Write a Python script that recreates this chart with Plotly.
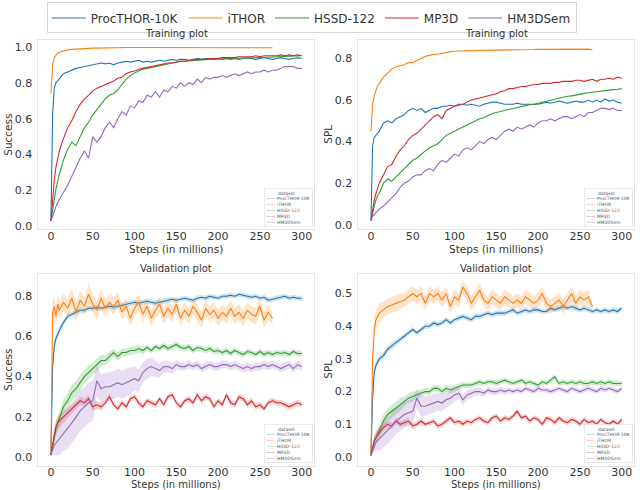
import plotly.graph_objects as go

# ---------------- data ----------------
names = ["ProcTHOR-10K", "iTHOR", "HSSD-122", "MP3D", "HM3DSem"]
colors = ["#1f77b4", "#ff7f0e", "#2ca02c", "#d62728", "#9467bd"]

steps = [0, 2, 4, 6, 8, 10,
         15, 20, 25, 30, 35, 40, 45, 50, 55, 60,
         65, 70, 75, 80, 85, 90, 95, 100, 105, 110,
         115, 120, 125, 130, 135, 140, 145, 150, 155, 160,
         165, 170, 175, 180, 185, 190, 195, 200, 205, 210,
         215, 220, 225, 230, 235, 240, 245, 250, 255, 260,
         265, 270, 275, 280, 285, 290, 295, 300]
steps_ithor = [0, 2, 4, 6, 8, 10,
               15, 20, 25, 30, 35, 40, 45, 50, 55, 60,
               65, 70, 75, 80, 85, 90, 95, 100, 105, 110,
               115, 120, 125, 130, 135, 140, 145, 150, 155, 160,
               165, 170, 175, 180, 185, 190, 195, 200, 205, 210,
               215, 220, 225, 230, 235, 240, 245, 250, 255, 260,
               265]

# Training - Success
tr_succ_procthor = [0.03, 0.62, 0.77, 0.80, 0.81, 0.82,
    0.85, 0.86, 0.87, 0.88, 0.885, 0.89, 0.895, 0.90, 0.905, 0.91,
    0.905, 0.91, 0.90, 0.91, 0.915, 0.92, 0.915, 0.92, 0.925, 0.915,
    0.92, 0.915, 0.92, 0.925, 0.92, 0.925, 0.93, 0.925, 0.93, 0.93,
    0.925, 0.93, 0.935, 0.93, 0.935, 0.93, 0.93, 0.935, 0.93, 0.935,
    0.93, 0.935, 0.93, 0.935, 0.94, 0.935, 0.93, 0.935, 0.94, 0.935,
    0.93, 0.935, 0.94, 0.935, 0.93, 0.935, 0.94, 0.935]
tr_succ_ithor = [0.74, 0.90, 0.94, 0.955, 0.965, 0.97,
    0.978, 0.983, 0.986, 0.988, 0.99, 0.991, 0.992, 0.993, 0.993, 0.994,
    0.994, 0.995, 0.995, 0.995, 0.995, 0.996, 0.996, 0.996, 0.996, 0.996,
    0.997, 0.997, 0.997, 0.997, 0.997, 0.997, 0.997, 0.997, 0.997, 0.997,
    0.997, 0.997, 0.997, 0.997, 0.997, 0.997, 0.997, 0.997, 0.997, 0.997,
    0.997, 0.997, 0.997, 0.997, 0.997, 0.997, 0.997, 0.997, 0.997, 0.997,
    0.995]
tr_succ_hssd = [0.03, 0.10, 0.16, 0.21, 0.25, 0.29,
    0.37, 0.43, 0.47, 0.45, 0.50, 0.55, 0.58, 0.62, 0.65, 0.68,
    0.71, 0.73, 0.74, 0.76, 0.79, 0.82, 0.84, 0.855, 0.865, 0.875,
    0.88, 0.885, 0.89, 0.895, 0.90, 0.905, 0.91, 0.915, 0.92, 0.92,
    0.922, 0.925, 0.925, 0.927, 0.928, 0.93, 0.93, 0.932, 0.933, 0.934,
    0.935, 0.936, 0.936, 0.937, 0.938, 0.939, 0.94, 0.941, 0.942, 0.943,
    0.943, 0.944, 0.945, 0.946, 0.947, 0.948, 0.949, 0.95]
tr_succ_mp3d = [0.03, 0.17, 0.26, 0.33, 0.38, 0.42,
    0.49, 0.55, 0.59, 0.64, 0.68, 0.71, 0.73, 0.755, 0.77, 0.78,
    0.79, 0.80, 0.81, 0.825, 0.83, 0.85, 0.86, 0.865, 0.875, 0.88,
    0.885, 0.89, 0.895, 0.90, 0.905, 0.91, 0.91, 0.915, 0.92, 0.92,
    0.925, 0.925, 0.93, 0.93, 0.93, 0.935, 0.935, 0.935, 0.94, 0.94,
    0.94, 0.94, 0.945, 0.945, 0.945, 0.945, 0.95, 0.945, 0.95, 0.95,
    0.95, 0.95, 0.955, 0.95, 0.955, 0.95, 0.955, 0.95]
tr_succ_hm3d = [0.03, 0.06, 0.09, 0.11, 0.13, 0.15,
    0.19, 0.23, 0.28, 0.33, 0.38, 0.42, 0.38, 0.50, 0.47, 0.50,
    0.55, 0.58, 0.55, 0.60, 0.64, 0.62, 0.67, 0.66, 0.70, 0.69,
    0.73, 0.72, 0.75, 0.72, 0.76, 0.75, 0.78, 0.77, 0.80, 0.78,
    0.80, 0.79, 0.82, 0.80, 0.83, 0.82, 0.83, 0.83, 0.84, 0.83,
    0.84, 0.85, 0.84, 0.85, 0.86, 0.85, 0.86, 0.86, 0.87, 0.86,
    0.87, 0.87, 0.88, 0.89, 0.89, 0.89, 0.88, 0.88]

# Training - SPL
tr_spl_procthor = [0.02, 0.38, 0.42, 0.43, 0.44, 0.45,
    0.49, 0.50, 0.49, 0.51, 0.52, 0.53, 0.55, 0.56, 0.55, 0.56,
    0.54, 0.55, 0.56, 0.56, 0.57, 0.57, 0.575, 0.57, 0.58, 0.58,
    0.575, 0.58, 0.575, 0.57, 0.58, 0.585, 0.59, 0.59, 0.585, 0.58,
    0.58, 0.58, 0.585, 0.58, 0.58, 0.58, 0.58, 0.58, 0.585, 0.59,
    0.585, 0.59, 0.595, 0.59, 0.585, 0.59, 0.595, 0.59, 0.59, 0.60,
    0.59, 0.60, 0.59, 0.605, 0.595, 0.60, 0.59, 0.585]
tr_spl_ithor = [0.45, 0.58, 0.62, 0.65, 0.67, 0.68,
    0.71, 0.73, 0.75, 0.76, 0.765, 0.77, 0.78, 0.78, 0.79, 0.80,
    0.81, 0.815, 0.82, 0.82, 0.825, 0.83, 0.833, 0.835, 0.836, 0.837,
    0.838, 0.838, 0.839, 0.839, 0.84, 0.84, 0.84, 0.84, 0.841, 0.841,
    0.842, 0.842, 0.842, 0.843, 0.843, 0.843, 0.843, 0.844, 0.844, 0.844,
    0.844, 0.845, 0.845, 0.845, 0.845, 0.846, 0.846, 0.846, 0.846, 0.845,
    0.84]
tr_spl_hssd = [0.02, 0.06, 0.09, 0.12, 0.14, 0.15,
    0.20, 0.22, 0.21, 0.23, 0.25, 0.27, 0.29, 0.31, 0.32, 0.34,
    0.355, 0.37, 0.38, 0.39, 0.41, 0.43, 0.44, 0.45, 0.46, 0.47,
    0.48, 0.49, 0.50, 0.51, 0.515, 0.525, 0.535, 0.54, 0.545, 0.55,
    0.555, 0.56, 0.565, 0.57, 0.575, 0.578, 0.58, 0.585, 0.59, 0.595,
    0.60, 0.605, 0.61, 0.615, 0.618, 0.62, 0.625, 0.63, 0.632, 0.635,
    0.638, 0.64, 0.642, 0.645, 0.647, 0.65, 0.652, 0.655]
tr_spl_mp3d = [0.02, 0.08, 0.12, 0.15, 0.18, 0.20,
    0.24, 0.28, 0.29, 0.33, 0.36, 0.38, 0.41, 0.43, 0.44, 0.46,
    0.48, 0.50, 0.52, 0.53, 0.51, 0.55, 0.56, 0.57, 0.575, 0.58,
    0.59, 0.60, 0.605, 0.61, 0.615, 0.62, 0.625, 0.63, 0.64, 0.645,
    0.655, 0.655, 0.66, 0.665, 0.665, 0.67, 0.675, 0.675, 0.68, 0.68,
    0.68, 0.685, 0.685, 0.69, 0.69, 0.69, 0.695, 0.695, 0.69, 0.695,
    0.70, 0.69, 0.70, 0.70, 0.705, 0.70, 0.71, 0.705]
tr_spl_hm3d = [0.02, 0.04, 0.05, 0.06, 0.07, 0.075,
    0.09, 0.11, 0.13, 0.15, 0.18, 0.20, 0.21, 0.23, 0.24, 0.24,
    0.26, 0.27, 0.26, 0.29, 0.31, 0.30, 0.32, 0.34, 0.33, 0.36,
    0.37, 0.36, 0.38, 0.40, 0.39, 0.41, 0.42, 0.41, 0.43, 0.45,
    0.46, 0.45, 0.47, 0.46, 0.47, 0.48, 0.47, 0.49, 0.50, 0.50,
    0.51, 0.50, 0.51, 0.52, 0.52, 0.51, 0.52, 0.53, 0.52, 0.54,
    0.54, 0.55, 0.56, 0.56, 0.555, 0.56, 0.55, 0.55]

# Validation - Success (mean)
va_succ_procthor = [0.01, 0.45, 0.55, 0.59, 0.61, 0.63,
    0.67, 0.70, 0.71, 0.72, 0.73, 0.73, 0.74, 0.74, 0.745, 0.74,
    0.745, 0.75, 0.745, 0.75, 0.755, 0.76, 0.765, 0.77, 0.765, 0.77,
    0.775, 0.77, 0.765, 0.77, 0.775, 0.78, 0.785, 0.78, 0.785, 0.79,
    0.785, 0.78, 0.79, 0.795, 0.79, 0.80, 0.795, 0.79, 0.80, 0.80,
    0.805, 0.80, 0.81, 0.805, 0.80, 0.795, 0.80, 0.79, 0.795, 0.78,
    0.785, 0.79, 0.795, 0.80, 0.79, 0.795, 0.79, 0.79]
va_succ_ithor = [0.02, 0.72, 0.75, 0.70, 0.76, 0.73,
    0.77, 0.74, 0.79, 0.72, 0.78, 0.75, 0.81, 0.76, 0.73, 0.79,
    0.74, 0.77, 0.75, 0.78, 0.72, 0.75, 0.69, 0.74, 0.77, 0.71,
    0.75, 0.69, 0.73, 0.76, 0.70, 0.74, 0.71, 0.76, 0.69, 0.73,
    0.70, 0.75, 0.72, 0.68, 0.74, 0.71, 0.73, 0.69, 0.72, 0.70,
    0.74, 0.70, 0.72, 0.69, 0.73, 0.71, 0.70, 0.75, 0.68, 0.72,
    0.69]
va_succ_hssd = [0.01, 0.06, 0.10, 0.14, 0.17, 0.19,
    0.25, 0.28, 0.32, 0.34, 0.37, 0.40, 0.42, 0.44, 0.46, 0.48,
    0.48, 0.50, 0.52, 0.50, 0.52, 0.52, 0.53, 0.53, 0.54, 0.53,
    0.545, 0.53, 0.55, 0.54, 0.555, 0.54, 0.55, 0.56, 0.545, 0.54,
    0.55, 0.53, 0.545, 0.54, 0.53, 0.54, 0.525, 0.53, 0.52, 0.53,
    0.515, 0.53, 0.52, 0.51, 0.525, 0.52, 0.51, 0.525, 0.51, 0.52,
    0.51, 0.52, 0.515, 0.52, 0.51, 0.525, 0.515, 0.515]
va_succ_mp3d = [0.01, 0.07, 0.11, 0.15, 0.17, 0.18,
    0.20, 0.22, 0.24, 0.26, 0.28, 0.27, 0.29, 0.25, 0.26, 0.25,
    0.27, 0.30, 0.26, 0.24, 0.27, 0.25, 0.29, 0.30, 0.27, 0.25,
    0.28, 0.27, 0.26, 0.29, 0.26, 0.30, 0.31, 0.27, 0.25, 0.28,
    0.29, 0.27, 0.31, 0.28, 0.30, 0.29, 0.25, 0.28, 0.26, 0.31,
    0.27, 0.26, 0.30, 0.29, 0.26, 0.28, 0.25, 0.26, 0.24, 0.27,
    0.28, 0.27, 0.27, 0.26, 0.25, 0.26, 0.27, 0.26]
va_succ_hm3d = [0.01, 0.04, 0.06, 0.07, 0.08, 0.09,
    0.12, 0.14, 0.17, 0.20, 0.23, 0.25, 0.27, 0.28, 0.38, 0.34,
    0.35, 0.35, 0.36, 0.37, 0.36, 0.37, 0.38, 0.39, 0.38, 0.42,
    0.44, 0.45, 0.44, 0.43, 0.45, 0.45, 0.44, 0.46, 0.45, 0.45,
    0.46, 0.45, 0.46, 0.44, 0.45, 0.46, 0.45, 0.45, 0.46, 0.46,
    0.45, 0.46, 0.45, 0.44, 0.45, 0.44, 0.45, 0.45, 0.46, 0.45,
    0.46, 0.45, 0.44, 0.45, 0.46, 0.44, 0.46, 0.45]

# Validation - Success (band half-widths)
va_succ_procthor_err = [0.0, 0.04, 0.03, 0.02, 0.02, 0.02,
    0.015, 0.015, 0.015, 0.012, 0.012, 0.012, 0.012, 0.012, 0.012, 0.012,
    0.012, 0.012, 0.012, 0.012, 0.012, 0.012, 0.012, 0.012, 0.012, 0.012,
    0.012, 0.012, 0.012, 0.012, 0.012, 0.012, 0.012, 0.012, 0.012, 0.012,
    0.012, 0.012, 0.012, 0.012, 0.012, 0.012, 0.012, 0.012, 0.012, 0.012,
    0.012, 0.012, 0.012, 0.012, 0.012, 0.012, 0.012, 0.012, 0.012, 0.012,
    0.012, 0.012, 0.012, 0.012, 0.012, 0.012, 0.012, 0.012]
va_succ_ithor_err = [0.0, 0.06, 0.05, 0.05, 0.045, 0.045,
    0.045, 0.045, 0.05, 0.045, 0.045, 0.045, 0.055, 0.045, 0.045, 0.045,
    0.045, 0.04, 0.04, 0.04, 0.04, 0.04, 0.04, 0.04, 0.04, 0.04,
    0.04, 0.04, 0.04, 0.04, 0.04, 0.04, 0.04, 0.04, 0.04, 0.04,
    0.04, 0.04, 0.04, 0.04, 0.04, 0.04, 0.04, 0.04, 0.04, 0.04,
    0.04, 0.04, 0.04, 0.04, 0.04, 0.04, 0.04, 0.04, 0.04, 0.04,
    0.03]
va_succ_hssd_err = [0.0, 0.02, 0.03, 0.04, 0.04, 0.04,
    0.04, 0.04, 0.04, 0.04, 0.04, 0.035, 0.035, 0.03, 0.03, 0.03,
    0.025, 0.025, 0.02, 0.02, 0.02, 0.02, 0.02, 0.02, 0.02, 0.02,
    0.015, 0.015, 0.015, 0.015, 0.015, 0.015, 0.015, 0.015, 0.015, 0.015,
    0.015, 0.015, 0.015, 0.015, 0.015, 0.015, 0.015, 0.015, 0.015, 0.015,
    0.015, 0.015, 0.015, 0.015, 0.015, 0.015, 0.015, 0.015, 0.015, 0.015,
    0.015, 0.015, 0.015, 0.015, 0.015, 0.015, 0.015, 0.015]
va_succ_mp3d_err = [0.0, 0.02, 0.03, 0.03, 0.03, 0.03,
    0.03, 0.025, 0.02, 0.02, 0.02, 0.02, 0.02, 0.02, 0.02, 0.02,
    0.015, 0.015, 0.015, 0.015, 0.015, 0.015, 0.015, 0.015, 0.015, 0.015,
    0.015, 0.015, 0.015, 0.015, 0.015, 0.015, 0.015, 0.015, 0.015, 0.015,
    0.015, 0.015, 0.015, 0.015, 0.015, 0.015, 0.015, 0.015, 0.015, 0.015,
    0.015, 0.015, 0.015, 0.015, 0.015, 0.015, 0.015, 0.015, 0.015, 0.015,
    0.015, 0.015, 0.015, 0.015, 0.015, 0.015, 0.015, 0.015]
va_succ_hm3d_err = [0.0, 0.03, 0.05, 0.06, 0.07, 0.08,
    0.09, 0.10, 0.10, 0.10, 0.10, 0.10, 0.10, 0.10, 0.08, 0.07,
    0.07, 0.07, 0.07, 0.07, 0.07, 0.07, 0.065, 0.06, 0.055, 0.05,
    0.05, 0.045, 0.04, 0.035, 0.03, 0.03, 0.025, 0.025, 0.02, 0.02,
    0.02, 0.02, 0.02, 0.02, 0.02, 0.02, 0.02, 0.02, 0.02, 0.02,
    0.02, 0.02, 0.02, 0.02, 0.02, 0.02, 0.02, 0.02, 0.02, 0.02,
    0.02, 0.02, 0.02, 0.02, 0.02, 0.02, 0.02, 0.02]

# Validation - SPL (mean)
va_spl_procthor = [0.005, 0.18, 0.26, 0.28, 0.29, 0.30,
    0.31, 0.33, 0.34, 0.35, 0.36, 0.37, 0.38, 0.39, 0.38, 0.39,
    0.40, 0.40, 0.41, 0.405, 0.41, 0.42, 0.41, 0.42, 0.425, 0.43,
    0.425, 0.42, 0.43, 0.43, 0.435, 0.44, 0.435, 0.44, 0.44, 0.44,
    0.445, 0.45, 0.44, 0.445, 0.45, 0.445, 0.45, 0.45, 0.445, 0.445,
    0.455, 0.45, 0.455, 0.46, 0.455, 0.46, 0.455, 0.45, 0.455, 0.45,
    0.445, 0.45, 0.445, 0.45, 0.445, 0.45, 0.445, 0.455]
va_spl_ithor = [0.005, 0.30, 0.39, 0.42, 0.43, 0.44,
    0.45, 0.46, 0.465, 0.47, 0.475, 0.48, 0.49, 0.50, 0.49, 0.50,
    0.47, 0.50, 0.49, 0.50, 0.48, 0.50, 0.46, 0.49, 0.48, 0.52,
    0.50, 0.47, 0.49, 0.51, 0.48, 0.47, 0.49, 0.48, 0.47, 0.49,
    0.48, 0.47, 0.48, 0.47, 0.49, 0.48, 0.47, 0.48, 0.50, 0.47,
    0.46, 0.47, 0.48, 0.46, 0.48, 0.50, 0.47, 0.49, 0.48, 0.49,
    0.46]
va_spl_hssd = [0.005, 0.03, 0.05, 0.06, 0.07, 0.08,
    0.11, 0.13, 0.14, 0.15, 0.16, 0.17, 0.18, 0.185, 0.19, 0.195,
    0.20, 0.20, 0.21, 0.21, 0.20, 0.21, 0.205, 0.21, 0.215, 0.22,
    0.22, 0.22, 0.225, 0.23, 0.225, 0.23, 0.23, 0.225, 0.23, 0.235,
    0.23, 0.225, 0.23, 0.235, 0.225, 0.23, 0.225, 0.22, 0.23, 0.225,
    0.235, 0.245, 0.225, 0.23, 0.225, 0.23, 0.225, 0.23, 0.225, 0.225,
    0.23, 0.225, 0.23, 0.225, 0.23, 0.225, 0.225, 0.225]
va_spl_mp3d = [0.005, 0.03, 0.05, 0.06, 0.07, 0.075,
    0.09, 0.10, 0.095, 0.11, 0.10, 0.105, 0.11, 0.095, 0.10, 0.11,
    0.10, 0.105, 0.11, 0.095, 0.10, 0.11, 0.12, 0.105, 0.11, 0.10,
    0.11, 0.105, 0.115, 0.12, 0.11, 0.105, 0.12, 0.125, 0.11, 0.12,
    0.115, 0.125, 0.14, 0.12, 0.125, 0.11, 0.12, 0.115, 0.10, 0.12,
    0.115, 0.105, 0.12, 0.11, 0.105, 0.115, 0.11, 0.10, 0.115, 0.105,
    0.11, 0.10, 0.115, 0.105, 0.10, 0.11, 0.10, 0.115]
va_spl_hm3d = [0.005, 0.02, 0.035, 0.045, 0.05, 0.055,
    0.07, 0.08, 0.095, 0.11, 0.12, 0.13, 0.135, 0.14, 0.18, 0.155,
    0.155, 0.16, 0.165, 0.17, 0.165, 0.175, 0.18, 0.19, 0.195, 0.175,
    0.19, 0.195, 0.20, 0.20, 0.195, 0.205, 0.20, 0.20, 0.205, 0.20,
    0.205, 0.20, 0.205, 0.20, 0.21, 0.205, 0.20, 0.21, 0.205, 0.205,
    0.20, 0.205, 0.21, 0.205, 0.20, 0.21, 0.205, 0.20, 0.205, 0.21,
    0.205, 0.20, 0.21, 0.205, 0.21, 0.205, 0.20, 0.21]

# Validation - SPL (band half-widths)
va_spl_procthor_err = [0.0, 0.02, 0.015, 0.012, 0.01, 0.01,
    0.01, 0.01, 0.01, 0.008, 0.008, 0.008, 0.008, 0.008, 0.008, 0.008,
    0.008, 0.008, 0.008, 0.008, 0.008, 0.008, 0.008, 0.008, 0.008, 0.008,
    0.008, 0.008, 0.008, 0.008, 0.008, 0.008, 0.008, 0.008, 0.008, 0.008,
    0.008, 0.008, 0.008, 0.008, 0.008, 0.008, 0.008, 0.008, 0.008, 0.008,
    0.008, 0.008, 0.008, 0.008, 0.008, 0.008, 0.008, 0.008, 0.008, 0.008,
    0.008, 0.008, 0.008, 0.008, 0.008, 0.008, 0.008, 0.008]
va_spl_ithor_err = [0.0, 0.04, 0.035, 0.03, 0.03, 0.03,
    0.025, 0.025, 0.025, 0.025, 0.025, 0.022, 0.022, 0.022, 0.022, 0.022,
    0.022, 0.022, 0.022, 0.022, 0.022, 0.022, 0.022, 0.022, 0.022, 0.022,
    0.022, 0.022, 0.022, 0.022, 0.022, 0.022, 0.022, 0.022, 0.022, 0.022,
    0.022, 0.022, 0.022, 0.022, 0.022, 0.022, 0.022, 0.022, 0.022, 0.022,
    0.022, 0.022, 0.022, 0.022, 0.022, 0.022, 0.022, 0.022, 0.022, 0.022,
    0.015]
va_spl_hssd_err = [0.0, 0.01, 0.015, 0.02, 0.02, 0.02,
    0.02, 0.02, 0.02, 0.02, 0.02, 0.015, 0.015, 0.015, 0.012, 0.012,
    0.01, 0.01, 0.01, 0.01, 0.01, 0.01, 0.01, 0.01, 0.01, 0.01,
    0.008, 0.008, 0.008, 0.008, 0.008, 0.008, 0.008, 0.008, 0.008, 0.008,
    0.008, 0.008, 0.008, 0.008, 0.008, 0.008, 0.008, 0.008, 0.008, 0.008,
    0.008, 0.008, 0.008, 0.008, 0.008, 0.008, 0.008, 0.008, 0.008, 0.008,
    0.008, 0.008, 0.008, 0.008, 0.008, 0.008, 0.008, 0.008]
va_spl_mp3d_err = [0.0, 0.01, 0.015, 0.015, 0.015, 0.015,
    0.012, 0.012, 0.01, 0.01, 0.01, 0.01, 0.01, 0.01, 0.01, 0.01,
    0.008, 0.008, 0.008, 0.008, 0.008, 0.008, 0.008, 0.008, 0.008, 0.008,
    0.008, 0.008, 0.008, 0.008, 0.008, 0.008, 0.008, 0.008, 0.008, 0.008,
    0.008, 0.008, 0.008, 0.008, 0.008, 0.008, 0.008, 0.008, 0.008, 0.008,
    0.008, 0.008, 0.008, 0.008, 0.008, 0.008, 0.008, 0.008, 0.008, 0.008,
    0.008, 0.008, 0.008, 0.008, 0.008, 0.008, 0.008, 0.008]
va_spl_hm3d_err = [0.0, 0.01, 0.02, 0.025, 0.03, 0.035,
    0.04, 0.04, 0.04, 0.04, 0.04, 0.04, 0.04, 0.04, 0.03, 0.03,
    0.03, 0.03, 0.03, 0.028, 0.026, 0.024, 0.022, 0.02, 0.018, 0.016,
    0.015, 0.014, 0.012, 0.012, 0.01, 0.01, 0.01, 0.01, 0.01, 0.01,
    0.008, 0.008, 0.008, 0.008, 0.008, 0.008, 0.008, 0.008, 0.008, 0.008,
    0.008, 0.008, 0.008, 0.008, 0.008, 0.008, 0.008, 0.008, 0.008, 0.008,
    0.008, 0.008, 0.008, 0.008, 0.008, 0.008, 0.008, 0.008]

x_ticks = [0, 50, 100, 150, 200, 250, 300]
y_ticks_tl = [0.0, 0.2, 0.4, 0.6, 0.8, 1.0]
y_ticks_tr = [0.0, 0.2, 0.4, 0.6, 0.8]
y_ticks_bl = [0.0, 0.2, 0.4, 0.6, 0.8]
y_ticks_br = [0.0, 0.1, 0.2, 0.3, 0.4, 0.5]

panels = [
    dict(series=[tr_succ_procthor, tr_succ_ithor, tr_succ_hssd, tr_succ_mp3d, tr_succ_hm3d],
         errs=None, title="Training plot", ylabel="Success", yticks=y_ticks_tl,
         yrange=[-0.016, 1.037]),
    dict(series=[tr_spl_procthor, tr_spl_ithor, tr_spl_hssd, tr_spl_mp3d, tr_spl_hm3d],
         errs=None, title="Training plot", ylabel="SPL", yticks=y_ticks_tr,
         yrange=[-0.022, 0.888]),
    dict(series=[va_succ_procthor, va_succ_ithor, va_succ_hssd, va_succ_mp3d, va_succ_hm3d],
         errs=[va_succ_procthor_err, va_succ_ithor_err, va_succ_hssd_err, va_succ_mp3d_err, va_succ_hm3d_err],
         title="Validation plot", ylabel="Success", yticks=y_ticks_bl,
         yrange=[-0.042, 0.911]),
    dict(series=[va_spl_procthor, va_spl_ithor, va_spl_hssd, va_spl_mp3d, va_spl_hm3d],
         errs=[va_spl_procthor_err, va_spl_ithor_err, va_spl_hssd_err, va_spl_mp3d_err, va_spl_hm3d_err],
         title="Validation plot", ylabel="SPL", yticks=y_ticks_br,
         yrange=[-0.026, 0.56]),
]

# ---------------- layout geometry ----------------
FONT = "DejaVu Sans"
TXT = "#333333"
W, H = 640, 490
x_domains = [[0.060, 0.491], [0.560, 0.991], [0.060, 0.491], [0.560, 0.991]]
y_domains = [[0.532, 0.918], [0.532, 0.918], [0.050, 0.441], [0.050, 0.441]]
title_y_px = [34, 34, 268.5, 268.5]
xlabel_y_px = [249, 249, 484.5, 484.5]
xlabel_size = [10.5, 10.5, 10, 10]
ylabel_x_px = [8, 328, 8, 328]


def rgba(hex_color, a):
    h = hex_color.lstrip("#")
    return "rgba(%d,%d,%d,%.2f)" % (int(h[0:2], 16), int(h[2:4], 16), int(h[4:6], 16), a)


fig = go.Figure()

for p_i, panel in enumerate(panels):
    ax = "" if p_i == 0 else str(p_i + 1)
    xref, yref = "x" + ax, "y" + ax
    for s_i, ys in enumerate(panel["series"]):
        xs = steps_ithor if s_i == 1 else steps
        if panel["errs"] is not None:
            e = panel["errs"][s_i]
            upper = [v + d for v, d in zip(ys, e)]
            lower = [v - d for v, d in zip(ys, e)]
            fig.add_trace(go.Scatter(
                x=list(xs) + list(xs)[::-1], y=upper + lower[::-1],
                fill="toself", fillcolor=rgba(colors[s_i], 0.22),
                line=dict(width=0), mode="lines", hoverinfo="skip",
                showlegend=False, xaxis=xref, yaxis=yref))
        fig.add_trace(go.Scatter(
            x=xs, y=ys, mode="lines", name=names[s_i],
            line=dict(color=colors[s_i], width=1.1),
            showlegend=(p_i == 0), legendgroup=names[s_i],
            xaxis=xref, yaxis=yref))

    axis_common = dict(showline=True, mirror=True, linecolor="#e3e3e3", linewidth=1,
                       showgrid=False, zeroline=False, ticks="", automargin=False,
                       tickfont=dict(family=FONT, size=11, color=TXT))
    xa = dict(axis_common, domain=x_domains[p_i], range=[-15, 315], tickvals=x_ticks,
              anchor=yref, ticklabelstandoff=-4)
    ya = dict(axis_common, domain=y_domains[p_i], range=panel["yrange"], tickvals=panel["yticks"],
              tickformat=".1f", anchor=xref, ticklabelstandoff=3)
    fig.layout["xaxis" + ax] = xa
    fig.layout["yaxis" + ax] = ya

    xc = sum(x_domains[p_i]) / 2
    yc = sum(y_domains[p_i]) / 2
    # subplot title
    fig.add_annotation(text=panel["title"], xref="paper", yref="paper",
                       x=xc, y=1 - title_y_px[p_i] / H,
                       xanchor="center", yanchor="middle", showarrow=False,
                       font=dict(family=FONT, size=10, color=TXT))
    # axis titles
    fig.add_annotation(text="Steps (in millions)", xref="paper", yref="paper",
                       x=xc, y=1 - xlabel_y_px[p_i] / H,
                       xanchor="center", yanchor="middle", showarrow=False,
                       font=dict(family=FONT, size=xlabel_size[p_i], color=TXT))
    fig.add_annotation(text=panel["ylabel"], xref="paper", yref="paper",
                       x=ylabel_x_px[p_i] / W, y=yc, textangle=-90,
                       xanchor="center", yanchor="middle", showarrow=False,
                       font=dict(family=FONT, size=10.5, color=TXT))

    # tiny inset legend (as in the source figure)
    inset = "&nbsp;&nbsp;&nbsp;&nbsp;&nbsp;&nbsp;&nbsp;&nbsp;dataset"
    for n, c in zip(names, colors):
        inset += "<br><span style='color:%s'>——</span> %s" % (c, n)
    fig.add_annotation(text=inset, xref=xref + " domain", yref=yref + " domain",
                       x=0.995, y=0.012, xanchor="right", yanchor="bottom",
                       align="left", showarrow=False,
                       font=dict(family=FONT, size=4.5, color="#555555"),
                       bgcolor="rgba(255,255,255,0.85)", bordercolor="#e0e0e0",
                       borderwidth=0.6, borderpad=2)

fig.update_layout(
    width=W, height=H,
    margin=dict(l=0, r=0, t=0, b=0),
    paper_bgcolor="white", plot_bgcolor="white",
    font=dict(family=FONT, color=TXT),
    showlegend=True,
    legend=dict(orientation="h", x=0.487, xanchor="center", y=0.995, yanchor="top",
                bordercolor="#d6d6d6", borderwidth=1, bgcolor="white",
                font=dict(family=FONT, size=12, color=TXT), itemwidth=34,
                tracegroupgap=0),
)

# remove the browser's default 8px page margin so the 640x490 figure fills the window
fig.write_html("out.html", config={"displayModeBar": False},
               post_script="document.body.style.margin='0';document.body.style.overflow='hidden';")
